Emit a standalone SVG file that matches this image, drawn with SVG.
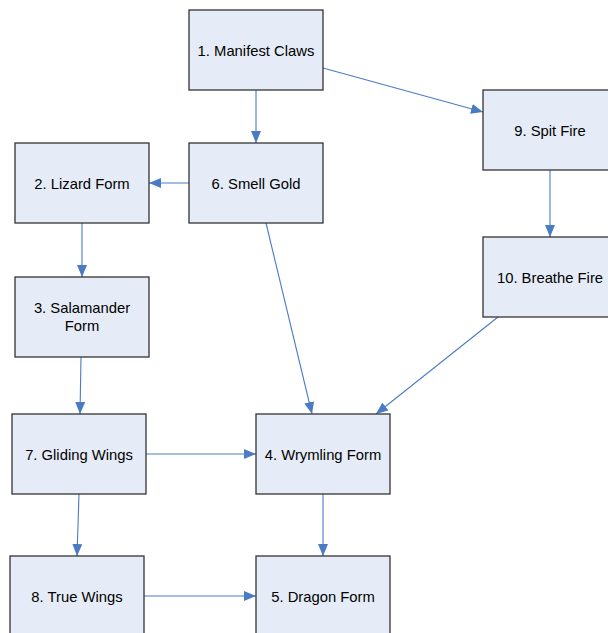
<svg xmlns="http://www.w3.org/2000/svg" width="608" height="633" viewBox="0 0 608 633">
  <style>
    .box { fill: #E6ECF7; stroke: #333333; stroke-width: 1.3; }
    .lbl { font-family: "Liberation Sans", Arial, sans-serif; font-size: 14.8px; fill: #000000; text-anchor: middle; }
    .edge { stroke: #4A7CC4; stroke-width: 1.1; fill: none; marker-end: url(#arrow); }
  </style>
  <defs>
    <marker id="arrow" viewBox="0 0 12 10" refX="12" refY="5" markerWidth="12" markerHeight="10" markerUnits="userSpaceOnUse" orient="auto">
      <path d="M0,0 L12,5 L0,10 z" fill="#4A7CC4"/>
    </marker>
  </defs>
  <rect width="608" height="633" fill="#FFFFFF"/>

  <g id="connectors">
    <line class="edge" x1="256" y1="90" x2="256" y2="143"/>
    <line class="edge" x1="323" y1="68" x2="483" y2="112"/>
    <line class="edge" x1="189" y1="183" x2="149" y2="183"/>
    <line class="edge" x1="82" y1="223" x2="82" y2="277"/>
    <line class="edge" x1="81" y1="357" x2="80" y2="414"/>
    <line class="edge" x1="266" y1="223" x2="312" y2="414"/>
    <line class="edge" x1="550" y1="170" x2="550" y2="237"/>
    <line class="edge" x1="498" y1="317" x2="376" y2="414"/>
    <line class="edge" x1="146" y1="454" x2="256" y2="454"/>
    <line class="edge" x1="79" y1="494" x2="77" y2="556"/>
    <line class="edge" x1="323" y1="494" x2="323" y2="556"/>
    <line class="edge" x1="144" y1="596" x2="256" y2="596"/>
  </g>

  <g id="n1"><rect class="box" x="189" y="10" width="134" height="80"/><text class="lbl" x="256" y="56">1. Manifest Claws</text></g>
  <g id="n6"><rect class="box" x="189" y="143" width="134" height="80"/><text class="lbl" x="256" y="189">6. Smell Gold</text></g>
  <g id="n2"><rect class="box" x="15" y="143" width="134" height="80"/><text class="lbl" x="82" y="189">2. Lizard Form</text></g>
  <g id="n3"><rect class="box" x="15" y="277" width="134" height="80"/><text class="lbl" x="82" y="313">3. Salamander</text><text class="lbl" x="82" y="331">Form</text></g>
  <g id="n9"><rect class="box" x="483" y="90" width="134" height="80"/><text class="lbl" x="550" y="136">9. Spit Fire</text></g>
  <g id="n10"><rect class="box" x="483" y="237" width="134" height="80"/><text class="lbl" x="550" y="283">10. Breathe Fire</text></g>
  <g id="n7"><rect class="box" x="12" y="414" width="134" height="80"/><text class="lbl" x="79" y="460">7. Gliding Wings</text></g>
  <g id="n4"><rect class="box" x="256" y="414" width="134" height="80"/><text class="lbl" x="323" y="460">4. Wrymling Form</text></g>
  <g id="n8"><rect class="box" x="10" y="556" width="134" height="80"/><text class="lbl" x="77" y="602">8. True Wings</text></g>
  <g id="n5"><rect class="box" x="256" y="556" width="134" height="80"/><text class="lbl" x="323" y="602">5. Dragon Form</text></g>
</svg>
